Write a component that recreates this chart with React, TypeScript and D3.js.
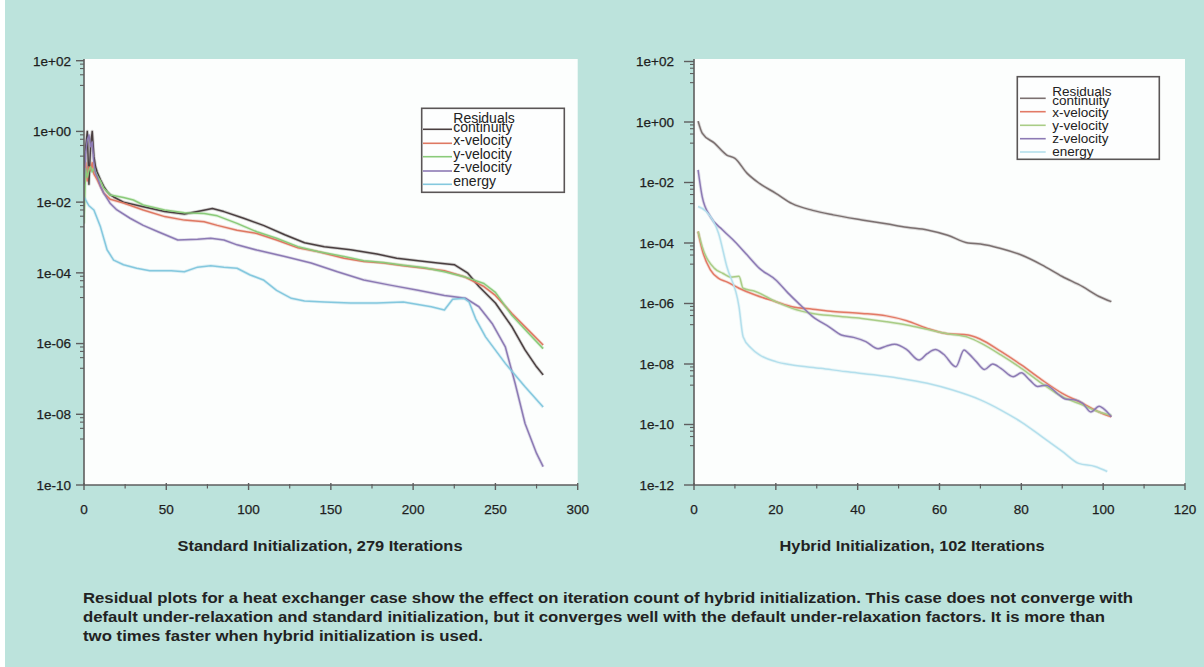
import React from 'react';
import * as d3 from 'd3';

type Pt = [number, number];

// ---------- Standard initialization (left) : [iteration, residual] ----------
const stdContinuity: Pt[] = [
  [0, 6.3e-2], [1, 3.2e-1], [2, 1.0], [3, 3.2e-2], [4, 4.0e-1], [5, 1.0], [6, 2.0e-1], [7, 1.0e-1],
  [8, 7.1e-2], [10, 4.3e-2], [12, 2.8e-2], [14, 2.0e-2], [16, 1.6e-2], [18, 1.4e-2], [24, 1.0e-2],
  [36, 7.4e-3], [49, 5.4e-3], [61, 4.6e-3], [69, 5.4e-3], [78, 6.6e-3], [85, 5.4e-3], [97, 3.5e-3],
  [109, 2.2e-3], [122, 1.2e-3], [134, 7.1e-4], [146, 5.5e-4], [162, 4.5e-4], [178, 3.4e-4],
  [190, 2.6e-4], [203, 2.2e-4], [215, 1.9e-4], [225, 1.7e-4], [233, 1.0e-4], [240, 4.1e-5],
  [250, 1.4e-5], [260, 3.0e-6], [268, 6.6e-7], [275, 2.2e-7], [279, 1.3e-7],
];
const stdXVelocity: Pt[] = [
  [0, 6.3e-2], [1, 1.3e-1], [2, 4.0e-2], [3, 1.0e-1], [4, 7.9e-2], [5, 1.3e-1], [6, 6.3e-2],
  [8, 4.3e-2], [10, 2.8e-2], [12, 1.8e-2], [16, 1.2e-2], [24, 9.5e-3], [36, 6.0e-3], [49, 3.9e-3],
  [61, 3.1e-3], [73, 2.8e-3], [81, 2.2e-3], [93, 1.6e-3], [105, 1.3e-3], [117, 8.5e-4], [130, 5.1e-4],
  [142, 4.0e-4], [158, 2.6e-4], [170, 2.1e-4], [182, 1.9e-4], [194, 1.6e-4], [207, 1.35e-4],
  [219, 1.15e-4], [231, 7.8e-5], [243, 4.1e-5], [250, 2.3e-5], [260, 7.1e-6], [270, 2.4e-6], [279, 9.1e-7],
];
const stdYVelocity: Pt[] = [
  [0, 2.5e-3], [1, 8.9e-2], [2, 5.0e-2], [3, 7.9e-2], [4, 1.0e-1], [5, 7.1e-2], [6, 8.9e-2],
  [8, 5.6e-2], [10, 4.0e-2], [12, 2.5e-2], [16, 1.6e-2], [24, 1.35e-2], [30, 1.15e-2], [36, 8.3e-3],
  [49, 6.0e-3], [61, 5.0e-3], [73, 4.8e-3], [81, 4.1e-3], [93, 2.5e-3], [105, 1.45e-3], [117, 9.5e-4],
  [130, 5.5e-4], [142, 4.0e-4], [158, 2.9e-4], [170, 2.2e-4], [182, 1.95e-4], [194, 1.65e-4],
  [207, 1.4e-4], [219, 1.07e-4], [231, 7.8e-5], [243, 5.0e-5], [250, 2.8e-5], [260, 6.3e-6],
  [270, 2.0e-6], [279, 7.2e-7],
];
const stdZVelocity: Pt[] = [
  [0, 3.2e-2], [1, 2.5e-1], [2, 5.8e-1], [3, 7.9e-1], [4, 3.7e-1], [5, 5.0e-1], [6, 1.3e-1],
  [7, 6.5e-2], [8, 5.2e-2], [10, 2.8e-2], [12, 1.8e-2], [16, 9.1e-3], [20, 6.0e-3], [28, 3.5e-3],
  [36, 2.2e-3], [45, 1.45e-3], [57, 8.5e-4], [69, 8.9e-4], [77, 9.5e-4], [85, 8.5e-4], [93, 6.2e-4],
  [105, 4.4e-4], [122, 2.9e-4], [138, 1.9e-4], [154, 1.07e-4], [170, 6.3e-5], [186, 4.5e-5],
  [203, 3.2e-5], [219, 2.3e-5], [232, 1.9e-5], [240, 1.1e-5], [248, 3.7e-6], [256, 8.1e-7],
  [262, 7.4e-8], [268, 5.5e-9], [275, 7.8e-10], [279, 3.3e-10],
];
const stdEnergy: Pt[] = [
  [0, 1.4e-2], [1, 1.15e-2], [3, 7.9e-3], [6, 6.0e-3], [10, 2.0e-3], [14, 4.5e-4], [18, 2.3e-4],
  [24, 1.7e-4], [32, 1.35e-4], [40, 1.15e-4], [53, 1.15e-4], [61, 1.07e-4], [69, 1.45e-4], [77, 1.6e-4],
  [85, 1.45e-4], [93, 1.35e-4], [101, 8.7e-5], [109, 6.3e-5], [117, 3.2e-5], [126, 1.9e-5], [134, 1.6e-5],
  [146, 1.5e-5], [162, 1.4e-5], [178, 1.4e-5], [194, 1.5e-5], [211, 1.1e-5], [219, 8.9e-6], [224, 1.8e-5],
  [231, 1.9e-5], [234, 1.5e-5], [238, 5.0e-6], [244, 1.55e-6], [256, 2.75e-7], [268, 6.0e-8], [279, 1.6e-8],
];

// ---------- Hybrid initialization (right) ----------
const hybContinuity: Pt[] = [
  [1, 1.07], [2, 4.3e-1], [5, 2.0e-1], [8, 8.1e-2], [10, 6.3e-2], [13, 2.0e-2], [16, 9.3e-3],
  [20, 4.4e-3], [24, 2.0e-3], [29, 1.2e-3], [34, 8.5e-4], [41, 5.8e-4], [47, 4.3e-4], [52, 3.3e-4],
  [57, 2.7e-4], [62, 1.8e-4], [67, 1.0e-4], [70, 9.3e-5], [75, 6.6e-5], [80, 4.0e-5], [85, 1.9e-5],
  [90, 7.8e-6], [95, 3.6e-6], [99, 1.7e-6], [102, 1.15e-6],
];
const hybXVelocity: Pt[] = [
  [1, 2.4e-4], [2, 5.9e-5], [4, 1.3e-5], [6, 6.8e-6], [8, 5.2e-6], [11, 3.2e-6], [15, 1.9e-6],
  [20, 1.15e-6], [24, 7.8e-7], [29, 6.5e-7], [34, 5.4e-7], [41, 4.7e-7], [47, 3.9e-7], [52, 2.7e-7],
  [57, 1.5e-7], [62, 1.0e-7], [67, 9.1e-8], [70, 6.6e-8], [75, 2.6e-8], [80, 9.3e-9], [85, 3.0e-9],
  [90, 1.07e-9], [95, 5.0e-10], [99, 2.6e-10], [102, 1.8e-10],
];
const hybYVelocity: Pt[] = [
  [1, 2.4e-4], [2, 7.6e-5], [5, 1.45e-5], [7, 1.0e-5], [9, 7.4e-6], [11, 7.9e-6], [12, 3.2e-6],
  [15, 2.5e-6], [20, 1.15e-6], [24, 6.9e-7], [29, 4.7e-7], [34, 3.9e-7], [41, 3.2e-7], [47, 2.5e-7],
  [52, 1.95e-7], [57, 1.4e-7], [62, 1.0e-7], [67, 7.6e-8], [70, 5.0e-8], [75, 2.0e-8], [80, 7.2e-9],
  [85, 2.3e-9], [90, 8.3e-10], [95, 4.4e-10], [99, 2.6e-10], [102, 2.0e-10],
];
const hybZVelocity: Pt[] = [
  [1, 2.6e-2], [2, 3.4e-3], [4, 7.4e-4], [7, 2.7e-4], [10, 1.1e-4], [13, 4.0e-5], [16, 1.45e-5],
  [20, 6.0e-6], [23, 2.2e-6], [26, 8.9e-7], [29, 3.7e-7], [33, 1.7e-7], [36, 9.1e-8], [39, 7.6e-8],
  [42, 5.5e-8], [45, 3.2e-8], [47, 3.9e-8], [49, 4.5e-8], [52, 3.0e-8], [55, 1.35e-8], [57, 2.2e-8],
  [59, 3.0e-8], [61, 2.1e-8], [64, 8.1e-9], [66, 2.9e-8], [67, 2.3e-8], [69, 1.2e-8], [71, 6.6e-9],
  [73, 1.0e-8], [75, 7.2e-9], [78, 3.8e-9], [80, 5.1e-9], [82, 3.0e-9], [84, 1.8e-9], [86, 2.0e-9],
  [89, 1.0e-9], [91, 6.8e-10], [93, 6.6e-10], [95, 5.0e-10], [97, 2.6e-10], [99, 4.0e-10],
  [100, 3.4e-10], [102, 1.8e-10],
];
const hybEnergy: Pt[] = [
  [1, 1.6e-3], [3, 1.1e-3], [6, 2.1e-4], [8, 1.7e-5], [11, 7.8e-7], [12, 8.0e-8], [14, 3.3e-8],
  [16, 2.0e-8], [20, 1.2e-8], [24, 9.3e-9], [31, 7.2e-9], [37, 5.6e-9], [44, 4.4e-9], [50, 3.4e-9],
  [57, 2.3e-9], [63, 1.4e-9], [70, 6.5e-10], [75, 3.0e-10], [80, 1.2e-10], [85, 4.0e-11],
  [90, 1.3e-11], [94, 5.2e-12], [98, 4.1e-12], [101, 2.8e-12],
];

const seriesNames = ['continuity', 'x-velocity', 'y-velocity', 'z-velocity', 'energy'];
const stdSeries = [stdContinuity, stdXVelocity, stdYVelocity, stdZVelocity, stdEnergy];
const hybSeries = [hybContinuity, hybXVelocity, hybYVelocity, hybZVelocity, hybEnergy];
const stdColors = ['#4a3f40', '#de7862', '#8acb7a', '#8c7ab4', '#84c8de'];
const hybColors = ['#7b7070', '#e27a66', '#a9cd86', '#8c7ab4', '#b3dfec'];

const stdXTicks = [0, 50, 100, 150, 200, 250, 300];
const stdXMinor = [25, 75, 125, 175, 225, 275];
const hybXTicks = [0, 20, 40, 60, 80, 100, 120];
const hybXMinor = [10, 30, 50, 70, 90, 110];
const stdYTicks = [1e2, 1e0, 1e-2, 1e-4, 1e-6, 1e-8, 1e-10];
const stdYLabels = ['1e+02', '1e+00', '1e-02', '1e-04', '1e-06', '1e-08', '1e-10'];
const hybYTicks = [1e2, 1e0, 1e-2, 1e-4, 1e-6, 1e-8, 1e-10, 1e-12];
const hybYLabels = ['1e+02', '1e+00', '1e-02', '1e-04', '1e-06', '1e-08', '1e-10', '1e-12'];
const minorMultipliers = [0.8, 0.6, 0.4, 0.2];

const legendTitle = 'Residuals';
const stdTitle = 'Standard Initialization, 279 Iterations';
const hybTitle = 'Hybrid Initialization, 102 Iterations';
const captionLines = [
  'Residual plots for a heat exchanger case show the effect on iteration count of hybrid initialization. This case does not converge with',
  'default under-relaxation and standard initialization, but it converges well with the default under-relaxation factors. It is more than',
  'two times faster when hybrid initialization is used.',
];

const FONT = '"Liberation Sans", Arial, Helvetica, sans-serif';

interface LegendLayout {
  box: [number, number, number, number];
  textX: number;
  baselines: number[];
  lineX: [number, number];
  lineYs: number[];
  fontSize: number;
}

interface PanelProps {
  id: string;
  xDomain: [number, number];
  xRange: [number, number];
  yDomain: [number, number];
  yRange: [number, number];
  plotTop: number;
  xTicks: number[];
  xMinor: number[];
  yTicks: number[];
  yLabels: string[];
  yLabelX: number;
  series: Pt[][];
  colors: string[];
  legend: LegendLayout;
  smooth: boolean;
  majorLen: number;
}

function Panel(p: PanelProps) {
  const x = d3.scaleLinear().domain(p.xDomain).range(p.xRange);
  const y = d3.scaleLog().domain(p.yDomain).range(p.yRange);
  const [x0, x1] = p.xRange;
  const yb = p.yRange[1];
  const line = d3
    .line<Pt>()
    .x((d) => x(d[0]))
    .y((d) => y(d[1]))
    .curve(p.smooth ? d3.curveMonotoneX : d3.curveLinear);
  const axisColor = '#5e5e5e';
  const minorVals: number[] = [];
  p.yTicks.forEach((t) => {
    minorMultipliers.forEach((m) => {
      const v = t * m;
      if (v >= p.yDomain[1]) minorVals.push(v);
    });
  });
  const lg = p.legend;
  const labelStyle = {
    fontFamily: FONT,
    fontSize: 13.5,
    fill: '#1e1e1e',
    stroke: '#1e1e1e',
    strokeWidth: 0.25,
  } as const;
  return (
    <g>
      <defs>
        <clipPath id={`clip-${p.id}`}>
          <rect x={x0} y={p.plotTop} width={x1 - x0} height={yb - p.plotTop} />
        </clipPath>
      </defs>
      <rect x={x0} y={p.plotTop} width={x1 - x0} height={yb - p.plotTop} fill="#fcfefd" />
      <g clipPath={`url(#clip-${p.id})`}>
        {p.series.map((s, i) => (
          <path
            key={`glow${i}`}
            d={line(s) || ''}
            fill="none"
            stroke={p.colors[i]}
            strokeOpacity={0.25}
            strokeWidth={3.2}
            strokeLinejoin="round"
          />
        ))}
        {p.series.map((s, i) => (
          <path
            key={i}
            d={line(s) || ''}
            fill="none"
            stroke={p.colors[i]}
            strokeWidth={1.5}
            strokeLinejoin="round"
          />
        ))}
      </g>
      {/* legend */}
      <rect
        x={lg.box[0]}
        y={lg.box[1]}
        width={lg.box[2]}
        height={lg.box[3]}
        fill="#fdfefe"
        stroke="#5a5656"
        strokeWidth={1.6}
      />
      <text x={lg.textX} y={lg.baselines[0]} fontFamily={FONT} fontSize={lg.fontSize} fill="#222">
        {legendTitle}
      </text>
      {seriesNames.map((n, i) => (
        <g key={n}>
          <line
            x1={lg.lineX[0]}
            x2={lg.lineX[1]}
            y1={lg.lineYs[i]}
            y2={lg.lineYs[i]}
            stroke={p.colors[i]}
            strokeWidth={1.6}
          />
          <text x={lg.textX} y={lg.baselines[i + 1]} fontFamily={FONT} fontSize={lg.fontSize} fill="#222">
            {n}
          </text>
        </g>
      ))}
      {/* axes */}
      <line x1={x0} x2={x0} y1={p.plotTop} y2={yb} stroke={axisColor} strokeWidth={1.6} />
      <line x1={x0} x2={x1} y1={yb} y2={yb} stroke={axisColor} strokeWidth={1.6} />
      {p.xTicks.map((t) => (
        <g key={`xt${t}`}>
          <line x1={x(t)} x2={x(t)} y1={yb - 2} y2={yb + 5} stroke={axisColor} strokeWidth={1.4} />
          <text x={x(t)} y={514} textAnchor="middle" {...labelStyle}>
            {t}
          </text>
        </g>
      ))}
      {p.xMinor.map((t) => (
        <line key={`xm${t}`} x1={x(t)} x2={x(t)} y1={yb - 1} y2={yb + 3.5} stroke={axisColor} strokeWidth={1.2} />
      ))}
      {p.yTicks.map((t, i) => (
        <g key={`yt${i}`}>
          <line x1={x0 - p.majorLen} x2={x0} y1={y(t)} y2={y(t)} stroke={axisColor} strokeWidth={1.4} />
          <text x={p.yLabelX} y={y(t)} dy="0.36em" textAnchor="end" {...labelStyle}>
            {p.yLabels[i]}
          </text>
        </g>
      ))}
      {minorVals.map((v, i) => (
        <line key={`ym${i}`} x1={x0 - 4} x2={x0} y1={y(v)} y2={y(v)} stroke={axisColor} strokeWidth={1.1} />
      ))}
    </g>
  );
}

export default function App() {
  return (
    <svg
      width={1204}
      height={667}
      viewBox="0 0 1204 667"
      style={{ position: 'absolute', left: 0, top: 0, display: 'block' }}
    >
      <rect x={0} y={0} width={1204} height={667} fill="#ffffff" />
      <rect x={5} y={0} width={1199} height={667} fill="#bce3dc" />
      <Panel
        id="std"
        xDomain={[0, 300]}
        xRange={[84, 577.7]}
        yDomain={[1e2, 1e-10]}
        yRange={[60.7, 485]}
        plotTop={59}
        xTicks={stdXTicks}
        xMinor={stdXMinor}
        yTicks={stdYTicks}
        yLabels={stdYLabels}
        yLabelX={71}
        series={stdSeries}
        colors={stdColors}
        smooth={false}
        majorLen={8}
        legend={{
          box: [421.7, 108.3, 142.6, 84],
          textX: 453.3,
          baselines: [122.5, 132, 145.3, 158.7, 172, 185.5],
          lineX: [423, 452],
          lineYs: [129.3, 143.3, 156.7, 171, 184.3],
          fontSize: 14,
        }}
      />
      <Panel
        id="hyb"
        xDomain={[0, 120]}
        xRange={[694, 1185]}
        yDomain={[1e2, 1e-12]}
        yRange={[61.5, 485]}
        plotTop={59}
        xTicks={hybXTicks}
        xMinor={hybXMinor}
        yTicks={hybYTicks}
        yLabels={hybYLabels}
        yLabelX={674}
        series={hybSeries}
        colors={hybColors}
        smooth={true}
        majorLen={10}
        legend={{
          box: [1017.3, 76.7, 142, 82.6],
          textX: 1052.3,
          baselines: [95.5, 104.5, 117, 130.3, 143, 155.5],
          lineX: [1020, 1045.7],
          lineYs: [98.3, 111.7, 125.3, 138.7, 152],
          fontSize: 13.5,
        }}
      />
      <text
        x={320}
        y={551}
        textAnchor="middle"
        fontFamily={FONT}
        fontWeight="bold"
        fontSize={14}
        fill="#222"
        textLength={285}
        lengthAdjust="spacingAndGlyphs"
      >
        {stdTitle}
      </text>
      <text
        x={912}
        y={551}
        textAnchor="middle"
        fontFamily={FONT}
        fontWeight="bold"
        fontSize={14}
        fill="#222"
        textLength={265}
        lengthAdjust="spacingAndGlyphs"
      >
        {hybTitle}
      </text>
      {captionLines.map((l, i) => (
        <text
          key={i}
          x={83}
          y={603 + i * 19}
          fontFamily={FONT}
          fontWeight="bold"
          fontSize={14}
          fill="#222"
          textLength={[1050, 1022, 400][i]}
          lengthAdjust="spacingAndGlyphs"
        >
          {l}
        </text>
      ))}
    </svg>
  );
}
